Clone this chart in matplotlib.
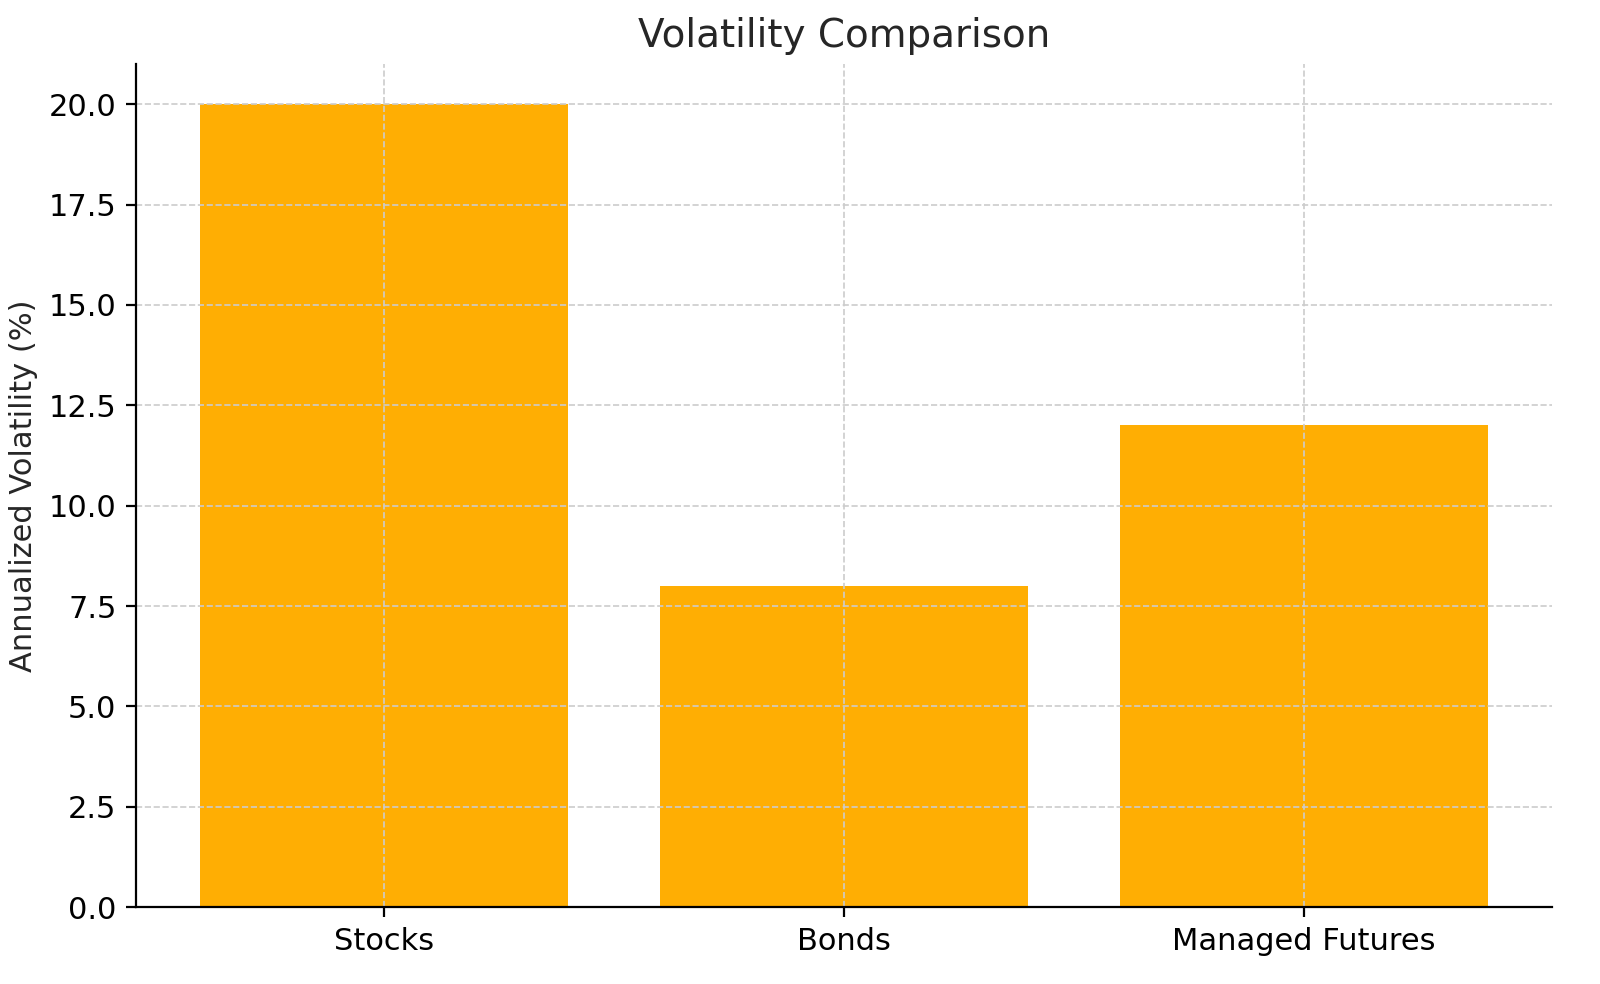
import matplotlib
matplotlib.use("Agg")
import matplotlib.pyplot as plt

categories = ["Stocks", "Bonds", "Managed Futures"]
volatility = [20, 8, 12]

fig, ax = plt.subplots(figsize=(8, 4.92), dpi=200)
ax.bar(categories, volatility, color="#ffae03", width=0.8)
ax.set_title("Volatility Comparison", fontsize=14, color="#262626")
ax.set_ylabel("Annualized Volatility (%)", fontsize=11, color="#262626")
ax.set_ylim(0, 21)
ax.grid(True, linestyle="--", color="#cccccc", linewidth=0.6)
ax.spines["top"].set_visible(False)
ax.spines["right"].set_visible(False)
ax.tick_params(labelsize=11)
fig.subplots_adjust(left=0.085, right=0.97, top=0.935, bottom=0.078)
fig.savefig("out.png")
